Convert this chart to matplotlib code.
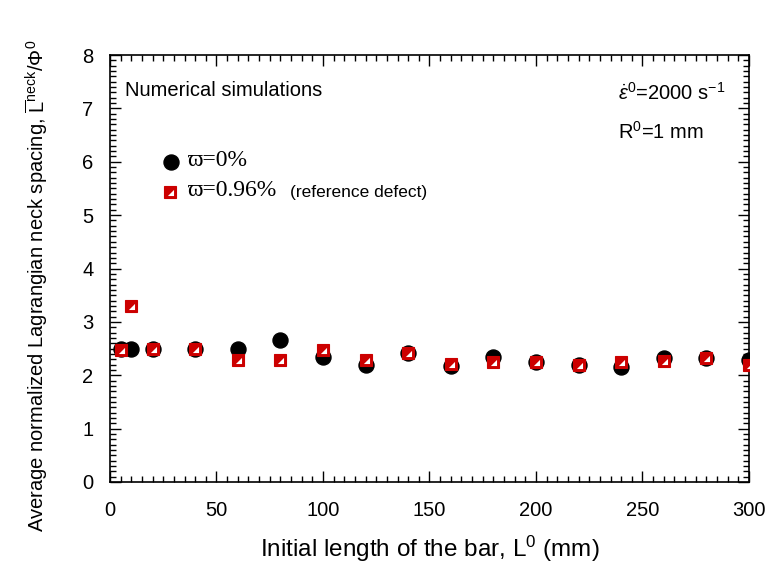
import matplotlib
matplotlib.use("Agg")
import matplotlib.pyplot as plt
from matplotlib.ticker import MultipleLocator

plt.rcParams['font.family'] = ['Liberation Sans', 'DejaVu Sans']
plt.rcParams['mathtext.fontset'] = 'custom'
plt.rcParams['mathtext.rm'] = 'Liberation Sans'
plt.rcParams['mathtext.it'] = 'Liberation Sans:italic'
plt.rcParams['mathtext.bf'] = 'Liberation Sans:bold'

# Initial bar length L0 (mm)
lengths = [5, 10, 20, 40, 60, 80, 100, 120, 140, 160, 180, 200, 220, 240, 260, 280, 300]
# Normalized neck spacing, no defect
spacing_no_defect = [2.49, 2.49, 2.49, 2.49, 2.50, 2.66, 2.35, 2.20, 2.41, 2.18,
                     2.35, 2.24, 2.20, 2.16, 2.32, 2.33, 2.28]
# Normalized neck spacing, reference defect 0.96 %
spacing_defect = [2.48, 3.30, 2.49, 2.49, 2.28, 2.28, 2.48, 2.28, 2.41, 2.21,
                  2.25, 2.25, 2.20, 2.25, 2.27, 2.33, 2.19]

RED = '#cc0000'
SQ_MS = 8.5
CIRC_MS = 10.8
# white corner triangle drawn inside each square marker
tri_verts = [(-0.22, -0.30), (0.30, -0.30), (0.30, 0.22), (-0.22, -0.30)]
TRI_SCALE = 0.30 / 0.5

fig = plt.figure(figsize=(7.69, 5.64), dpi=100)
ax = fig.add_axes([0.143, 0.1454, 0.831, 0.757])

ax.plot(lengths, spacing_no_defect, linestyle='none', marker='o', ms=CIRC_MS,
        mfc='black', mec='black', zorder=3)
ax.plot(lengths, spacing_defect, linestyle='none', marker='s', ms=SQ_MS,
        mfc=RED, mec=RED, mew=0.8, zorder=4)
ax.plot(lengths, spacing_defect, linestyle='none', marker=tri_verts,
        ms=SQ_MS * TRI_SCALE, mfc='white', mec='none', zorder=5)

ax.set_xlim(0, 300)
ax.set_ylim(0, 8)
ax.xaxis.set_major_locator(MultipleLocator(50))
ax.xaxis.set_minor_locator(MultipleLocator(5))
ax.yaxis.set_major_locator(MultipleLocator(1))
ax.yaxis.set_minor_locator(MultipleLocator(0.1))
ax.tick_params(which='both', direction='in', top=True, right=True, width=1.0)
ax.tick_params(which='major', length=8, labelsize=14.5)
ax.tick_params(axis='x', which='major', pad=14)
ax.tick_params(axis='y', which='major', pad=12)
ax.tick_params(which='minor', length=4)
for sp in ax.spines.values():
    sp.set_linewidth(1.2)

ax.set_xlabel(r'Initial length of the bar, L$^{0}$ (mm)', fontsize=17.5)
ax.xaxis.set_label_coords(0.5, -0.122)
ax.set_ylabel(r'Average normalized Lagrangian neck spacing, $\overline{\mathrm{L}}^{\mathrm{neck}}/\Phi^{0}$',
              fontsize=14.5)
ax.yaxis.set_label_coords(-0.094, 0.459)

ax.text(0.0235, 0.918, 'Numerical simulations', transform=ax.transAxes,
        fontsize=14.5, va='center', ha='left')
ax.text(0.795, 0.911, r'$\dot{\varepsilon}^{0}$=2000 s$^{-1}$', transform=ax.transAxes,
        fontsize=14.5, va='center', ha='left')
ax.text(0.795, 0.820, r'R$^{0}$=1 mm', transform=ax.transAxes,
        fontsize=14.5, va='center', ha='left')

# legend keys
ax.plot([0.095], [0.750], transform=ax.transAxes, marker='o', ms=CIRC_MS,
        mfc='black', mec='black', linestyle='none', clip_on=False)
ax.plot([0.094], [0.680], transform=ax.transAxes, marker='s', ms=SQ_MS,
        mfc=RED, mec=RED, mew=0.8, linestyle='none', clip_on=False)
ax.plot([0.094], [0.680], transform=ax.transAxes, marker=tri_verts,
        ms=SQ_MS * TRI_SCALE, mfc='white', mec='none', linestyle='none', clip_on=False)
serif = ['Liberation Serif', 'DejaVu Serif']
ax.text(0.121, 0.752, '\u03d6=0%', transform=ax.transAxes, fontsize=17,
        family=serif, va='center', ha='left')
ax.text(0.121, 0.682, '\u03d6=0.96%', transform=ax.transAxes, fontsize=17,
        family=serif, va='center', ha='left')
ax.text(0.281, 0.677, '(reference defect)', transform=ax.transAxes, fontsize=12.5,
        va='center', ha='left')

fig.savefig('out.png', dpi=100)
